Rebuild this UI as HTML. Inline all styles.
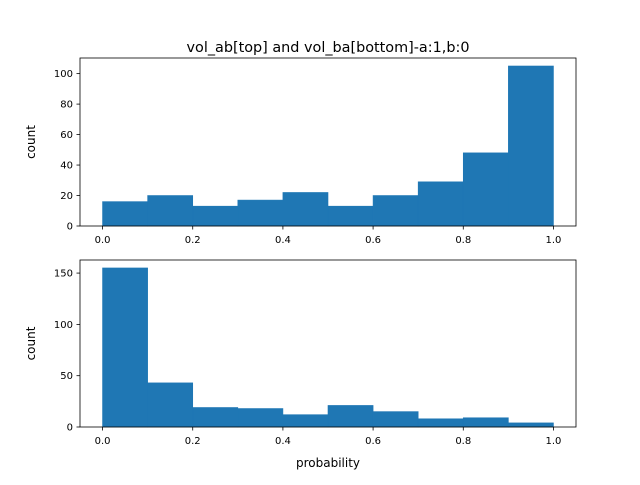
<!DOCTYPE html>
<html><head><meta charset="utf-8"><style>
body{margin:0;background:#fff;}
svg text{font-family:"DejaVu Sans","Liberation Sans",sans-serif;fill:#000;}
</style></head><body>
<svg id="chart" width="640" height="480" xmlns="http://www.w3.org/2000/svg">
<rect width="640" height="480" fill="#fff"/>
<text x="328" y="52" font-size="14.4" text-anchor="middle">vol_ab[top] and vol_ba[bottom]-a:1,b:0</text>
<g id="top"></g>
<g id="bottom"></g>
<text x="328" y="467" font-size="12" text-anchor="middle">probability</text>
</svg>
<script>
const binEdges = [0,0.1,0.2,0.3,0.4,0.5,0.6,0.7,0.8,0.9,1.0];
const topCounts = [16,20,13,17,22,13,20,29,48,105];
const bottomCounts = [155,43,19,18,12,21,15,8,9,4];
const xTicks = [0,0.2,0.4,0.6,0.8,1.0];
const xTickLabels = ["0.0","0.2","0.4","0.6","0.8","1.0"];
const topYTicks = [0,20,40,60,80,100];
const bottomYTicks = [0,50,100,150];
const NS="http://www.w3.org/2000/svg";
function mk(tag,attrs,parent){const e=document.createElementNS(NS,tag);for(const k in attrs)e.setAttribute(k,attrs[k]);parent.appendChild(e);return e;}
function drawPanel(g,counts,yTicks,top,bottom,prefix){
  const left=80,right=576;
  const maxC=Math.max(...counts)*1.05;
  const x=v=>left+(v+0.05)/1.1*(right-left);
  const y=v=>bottom-v/maxC*(bottom-top);
  counts.forEach((c,i)=>{
    const r=mk('rect',{x:x(binEdges[i]),y:y(c),width:x(binEdges[i+1])-x(binEdges[i]),height:bottom-y(c),fill:'#1f77b4',stroke:'#1f77b4','stroke-width':0.6},g);
    
    
  });
  const f=mk('rect',{x:left,y:top,width:right-left,height:bottom-top,fill:'none',stroke:'#000','stroke-width':0.8},g);
  
  
  xTicks.forEach((t,i)=>{
    mk('line',{x1:x(t),x2:x(t),y1:bottom,y2:bottom+3.5,stroke:'#000','stroke-width':0.8},g);
    const tx=mk('text',{x:x(t),y:bottom+17,'font-size':10,'text-anchor':'middle'},g);
    tx.textContent=xTickLabels[i];
    
    
  });
  yTicks.forEach(t=>{
    mk('line',{x1:left-3.5,x2:left,y1:y(t),y2:y(t),stroke:'#000','stroke-width':0.8},g);
    const tx=mk('text',{x:left-7,y:y(t)+3.5,'font-size':10,'text-anchor':'end'},g);
    tx.textContent=String(t);
    
    
  });
  const yl=mk('text',{x:0,y:0,'font-size':12,'text-anchor':'middle',transform:`translate(35,${(top+bottom)/2}) rotate(-90)`},g);
  yl.textContent='count';
  
  
}
drawPanel(document.getElementById('top'),topCounts,topYTicks,58,226,'top');
drawPanel(document.getElementById('bottom'),bottomCounts,bottomYTicks,260,427,'bottom');
</script>
</body></html>
